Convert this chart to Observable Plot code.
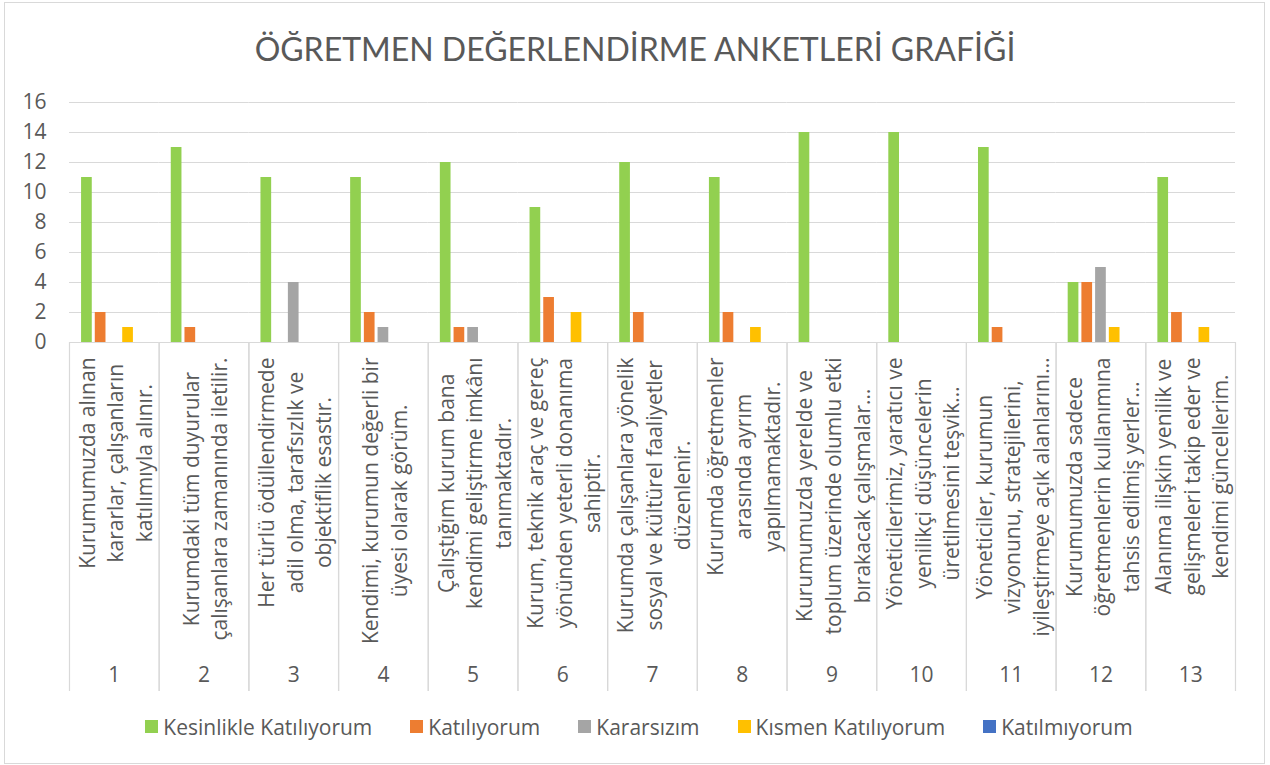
<!DOCTYPE html>
<html><head><meta charset="utf-8">
<script src="https://cdn.jsdelivr.net/npm/d3@7"></script>
<script src="https://cdn.jsdelivr.net/npm/@observablehq/plot@0.6"></script>
<style>
body{margin:0;background:#fff;font-family:"Open Sans",sans-serif;}
#wrap{position:relative;width:1270px;height:765px;overflow:hidden;background:#fff;}
#border{position:absolute;left:4px;top:2px;width:1261px;height:762px;box-sizing:border-box;border:1px solid #d9d9d9;}
#title{position:absolute;left:0;top:33px;width:1270px;text-align:center;font-family:Lato,sans-serif;font-size:32px;line-height:32px;color:#595959;white-space:nowrap;}
#chart{position:absolute;left:0;top:80px;}
#legend{position:absolute;left:4px;top:710px;width:1270px;display:flex;justify-content:center;}
.lg-swatch{margin-right:38px !important;}
.lg-swatch:last-child{margin-right:0 !important;}
.lg-swatch > svg{margin-right:5px !important;}
</style></head><body>
<div id="wrap"><div id="border"></div><div id="title">ÖĞRETMEN DEĞERLENDİRME ANKETLERİ GRAFİĞİ</div><div id="chart"></div><div id="legend"></div></div>
<script>
const categories = ["1","2","3","4","5","6","7","8","9","10","11","12","13"];
const questionLabels = [
  "Kurumumuzda alınan\nkararlar, çalışanların\nkatılımıyla alınır.",
  "Kurumdaki tüm duyurular\nçalışanlara zamanında iletilir.",
  "Her türlü ödüllendirmede\nadil olma, tarafsızlık ve\nobjektiflik esastır.",
  "Kendimi, kurumun değerli bir\nüyesi olarak görüm.",
  "Çalıştığım kurum bana\nkendimi geliştirme imkânı\ntanımaktadır.",
  "Kurum, teknik araç ve gereç\nyönünden yeterli donanıma\nsahiptir.",
  "Kurumda çalışanlara yönelik\nsosyal ve kültürel faaliyetler\ndüzenlenir.",
  "Kurumda öğretmenler\narasında ayrım\nyapılmamaktadır.",
  "Kurumumuzda yerelde ve\ntoplum üzerinde olumlu etki\nbırakacak çalışmalar…",
  "Yöneticilerimiz, yaratıcı ve\nyenilikçi düşüncelerin\nüretilmesini teşvik…",
  "Yöneticiler, kurumun\nvizyonunu, stratejilerini,\niyileştirmeye açık alanlarını…",
  "Kurumumuzda sadece\nöğretmenlerin kullanımına\ntahsis edilmiş yerler…",
  "Alanıma ilişkin yenilik ve\ngelişmeleri takip eder ve\nkendimi güncellerim."
];
const seriesNames = ["Kesinlikle Katılıyorum","Katılıyorum","Kararsızım","Kısmen Katılıyorum","Katılmıyorum"];
const seriesColors = ["#92d050","#ed7d31","#a5a5a5","#ffc000","#4472c4"];
const kesinlikleKatiliyorum = [11,13,11,11,12,9,12,11,14,14,13,4,11];
const katiliyorum          = [2,1,0,2,1,3,2,2,0,0,1,4,2];
const kararsizim           = [0,0,4,1,1,0,0,0,0,0,0,5,0];
const kismenKatiliyorum    = [1,0,0,0,0,2,0,1,0,0,0,1,1];
const katilmiyorum         = [0,0,0,0,0,0,0,0,0,0,0,0,0];
const yTicks = [0,2,4,6,8,10,12,14,16];

const seriesValues = [kesinlikleKatiliyorum, katiliyorum, kararsizim, kismenKatiliyorum, katilmiyorum];
const rows = [];
seriesNames.forEach((s, si) => categories.forEach((c, ci) => rows.push({cat: c, series: s, value: seriesValues[si][ci]})));

const TXT = "#595959", GRID = "#d9d9d9";
const FONT = "Open Sans";
const LF = 21;
const ctx = document.createElement("canvas").getContext("2d");
ctx.font = `${LF}px "${FONT}"`;
const labelMarks = questionLabels.map((lab, i) => {
  const L = d3.max(lab.split("\n"), s => ctx.measureText(s).width);
  return Plot.text([{cat: categories[i], label: lab}], {
    fx: "cat", text: "label", frameAnchor: "bottom", rotate: -90,
    textAnchor: "middle", lineAnchor: "middle", lineHeight: 1.36,
    fontSize: LF, fill: TXT, dy: 15 + L / 2
  });
});

const chart = Plot.plot({
  width: 1270, height: 620,
  marginTop: 22, marginBottom: 358, marginLeft: 69, marginRight: 35,
  style: {fontFamily: FONT, fontSize: "21px", color: TXT, background: "transparent"},
  fx: {domain: categories, paddingInner: 0, paddingOuter: 0, round: false},
  x: {domain: seriesNames, paddingInner: 0.22, paddingOuter: 0.88, round: false, axis: null},
  y: {domain: [0, 16]},
  color: {domain: seriesNames, range: seriesColors},
  marks: [
    Plot.gridY(yTicks, {stroke: GRID, strokeOpacity: 1, strokeWidth: 1.2}),
    Plot.frame({anchor: "left", stroke: GRID, strokeOpacity: 1, strokeWidth: 1.2, insetTop: 240, insetBottom: -348}),
    Plot.frame({anchor: "right", stroke: GRID, strokeOpacity: 1, strokeWidth: 1.2, insetTop: 240, insetBottom: -348}),
    Plot.axisY(yTicks, {tickSize: 0, tickPadding: 23, fontSize: 21, label: null}),
    Plot.axisFx({anchor: "bottom", tickSize: 0, tickPadding: 325, fontSize: 21, label: null}),
    Plot.barY(rows, {fx: "cat", x: "series", y: "value", fill: "series"}),
    ...labelMarks
  ]
});
document.getElementById("chart").appendChild(chart);

const legend = Plot.legend({
  color: {domain: seriesNames, range: seriesColors},
  legend: "swatches", swatchSize: 13, className: "lg",
  style: {fontSize: "21px", color: TXT, fontFamily: FONT}
});
document.getElementById("legend").appendChild(legend);
</script>
</body></html>
